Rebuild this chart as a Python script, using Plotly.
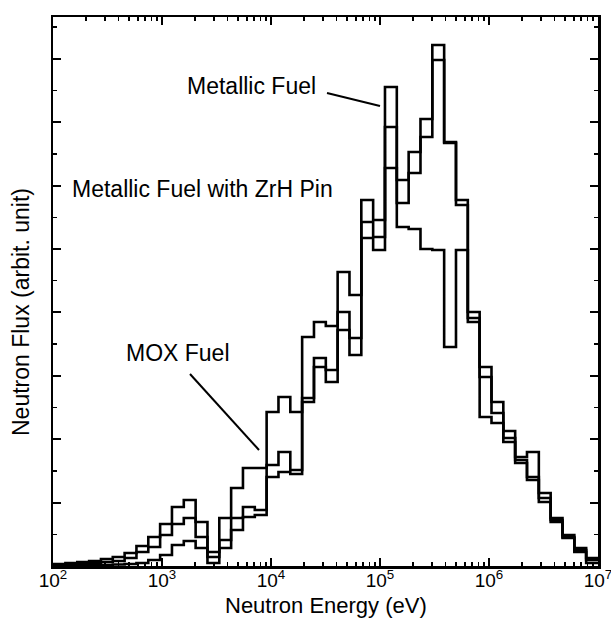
import numpy as np
import plotly.graph_objects as go

# Energy group structure: constant lethargy width 0.25 below 10 MeV (70-group type)
E_TOP = 1.0e7
LETHARGY_WIDTH = 0.25
N_GROUPS = 47  # groups visible between ~1e2 and 1e7 eV

# Flux per group (arbitrary units), ordered from lowest to highest energy group
metallic_fuel = [0.5, 0.5, 0.5, 1, 1, 1, 1.5, 2, 3, 6, 11, 21, 25, 18, 3, 18, 36, 49, 51,
                 89, 94, 92, 164, 199, 184, 236, 211, 328, 316,
                 479, 386, 414, 447, 521, 424, 366,
                 248, 199, 164, 135, 109, 114, 73, 48, 31, 18, 8]
metallic_zrh = [1, 1, 2, 2, 3, 4, 5, 8, 14, 19, 31, 42, 48, 29, 9, 26, 48, 59, 56,
                101, 114, 96, 168, 208, 196, 254, 228, 344, 329,
                439, 363, 393, 429, 506, 423, 361,
                244, 189, 153, 128, 106, 89, 68, 46, 29, 16, 6]
mox_fuel = [2, 2, 3, 4, 5, 7, 9, 13, 20, 29, 42, 59, 66, 44, 14, 48, 78, 98, 98,
            154, 169, 154, 229, 244, 240, 294, 271, 366, 346,
            398, 339, 337, 317, 316, 219, 316,
            254, 149, 143, 124, 103, 86, 64, 44, 28, 14, 3]

x_tickvals = [1e2, 1e3, 1e4, 1e5, 1e6, 1e7]
x_ticktext = ["10<sup>2</sup>", "10<sup>3</sup>", "10<sup>4</sup>",
              "10<sup>5</sup>", "10<sup>6</sup>", "10<sup>7</sup>"]

# group boundaries, ascending
edges = [E_TOP * np.exp(-LETHARGY_WIDTH * (N_GROUPS - i)) for i in range(N_GROUPS + 1)]

FONT = "Liberation Sans, Arial, Helvetica, sans-serif"

fig = go.Figure()
for vals in (mox_fuel, metallic_zrh, metallic_fuel):
    fig.add_trace(go.Scatter(
        x=edges, y=list(vals) + [vals[-1]],
        mode="lines", line=dict(shape="hv", color="black", width=2.6),
        showlegend=False, hoverinfo="skip"))

# plot area in pixels
L, R, T, B = 53, 598, 17, 566
W, H = R - L, B - T
def px(x):
    return (x - L) / W
def py(y):
    return (B - y) / H

minor_x = [m * 10 ** d for d in range(2, 7) for m in range(2, 10)]

fig.update_xaxes(
    type="log", range=[2, 7], automargin=False,
    tickvals=x_tickvals, ticktext=x_ticktext, ticklabeloverflow="allow",
    ticklabelstandoff=-4,
    ticks="inside", ticklen=8, tickwidth=2, tickcolor="black",
    minor=dict(tickvals=minor_x, ticks="inside", ticklen=4, tickwidth=1.5, tickcolor="black"),
    showline=True, linewidth=2.5, linecolor="black", mirror="ticks",
    showgrid=False, zeroline=False,
    tickfont=dict(family=FONT, size=19, color="black"),
)
fig.update_yaxes(
    range=[0, H], tick0=0, dtick=63.4, showticklabels=False, automargin=False,
    ticks="inside", ticklen=8, tickwidth=2, tickcolor="black",
    minor=dict(tick0=0, dtick=31.7, ticks="inside", ticklen=4, tickwidth=1.5, tickcolor="black"),
    showline=True, linewidth=2.5, linecolor="black", mirror="ticks",
    showgrid=False, zeroline=False,
)

ann_font = dict(family=FONT, size=23, color="black")
annotations = [
    dict(text="Metallic Fuel", x=px(185), y=py(86), xanchor="left", yanchor="middle"),
    dict(text="Metallic Fuel with ZrH Pin", x=px(70), y=py(189), xanchor="left", yanchor="middle"),
    dict(text="MOX Fuel", x=px(232), y=py(353), xanchor="right", yanchor="middle"),
    dict(text="Neutron Energy (eV)", x=0.5, y=py(605), xanchor="center", yanchor="middle",
         font=dict(family=FONT, size=22, color="black")),
    dict(text="Neutron Flux (arbit. unit)", x=px(21), y=py(312), xanchor="center",
         yanchor="middle", textangle=-90),
]
for a in annotations:
    a.setdefault("font", ann_font)
    fig.add_annotation(xref="paper", yref="paper", showarrow=False, **a)

for (x0, y0, x1, y1) in [(327, 93, 380, 106), (190, 374, 259, 450)]:
    fig.add_shape(type="line", xref="paper", yref="paper",
                  x0=px(x0), y0=py(y0), x1=px(x1), y1=py(y1),
                  line=dict(color="black", width=2))

fig.update_layout(
    template="none",
    width=611, height=620,
    margin=dict(l=L, r=611 - R, t=T, b=620 - B, pad=0, autoexpand=False),
    paper_bgcolor="white", plot_bgcolor="white",
    font=dict(family=FONT, color="black"),
)
fig.write_html("out.html", config={"displayModeBar": False, "staticPlot": True},
               post_script="document.body.style.margin='0px';document.body.style.overflow='hidden';")
